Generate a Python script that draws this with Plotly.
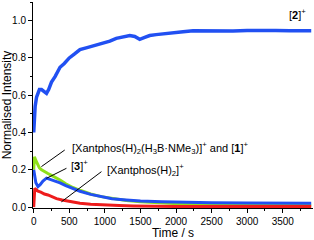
import plotly.graph_objects as go

# [2]+ (upper blue)
t_p2 = [0, 10, 20, 40, 60, 80, 110, 140, 180, 210, 250, 300, 370, 430, 500, 570, 650, 750, 880, 1000,
        1070, 1160, 1250, 1350, 1420, 1490, 1560, 1630, 1720, 1820, 1910, 2000, 2100, 2240, 2400, 2600,
        2800, 3000, 3200, 3400, 3600, 3800, 3900]
v_p2 = [0.40, 0.50, 0.54, 0.59, 0.61, 0.63, 0.63, 0.62, 0.61, 0.63, 0.67, 0.70, 0.75, 0.77, 0.80, 0.82,
        0.845, 0.855, 0.87, 0.88, 0.89, 0.905, 0.91, 0.92, 0.915, 0.90, 0.91, 0.92, 0.925, 0.93, 0.93,
        0.935, 0.94, 0.946, 0.945, 0.946, 0.945, 0.947, 0.945, 0.947, 0.946, 0.948, 0.946]

# [Xantphos(H)2(H3B.NMe3)]+ and [1]+ (green)
t_g = [0, 10, 30, 50, 80, 110, 150, 200, 250, 300, 370, 450, 550, 650, 800, 950, 1100, 1300, 1500,
       1800, 2100, 2500, 3000, 3500, 3900]
v_g = [0.20, 0.27, 0.25, 0.23, 0.21, 0.20, 0.19, 0.18, 0.17, 0.16, 0.145, 0.125, 0.105, 0.09, 0.07,
       0.056, 0.047, 0.035, 0.028, 0.02, 0.016, 0.012, 0.01, 0.01, 0.01]

# [3]+ (lower blue)
t_3 = [0, 10, 30, 60, 90, 130, 180, 220, 260, 300, 370, 450, 550, 650, 800, 950, 1100, 1300, 1500,
       1800, 2100, 2500, 3000, 3500, 3900]
v_3 = [0.20, 0.17, 0.13, 0.11, 0.12, 0.14, 0.155, 0.15, 0.145, 0.14, 0.13, 0.115, 0.10, 0.085, 0.068,
       0.055, 0.045, 0.038, 0.032, 0.028, 0.025, 0.023, 0.022, 0.021, 0.02]

# [Xantphos(H)2]+ (red)
t_r = [0, 5, 15, 30, 60, 100, 150, 200, 260, 320, 400, 500, 650, 800, 1000, 1200, 1400, 1600, 1650,
       2000, 3000, 3900]
v_r = [0.0, 0.08, 0.10, 0.095, 0.085, 0.08, 0.07, 0.065, 0.055, 0.045, 0.038, 0.03, 0.02, 0.015, 0.01,
       0.008, 0.006, 0.004, 0.003, 0.003, 0.003, 0.003]

x_ticks = [0, 500, 1000, 1500, 2000, 2500, 3000, 3500]
y_ticks = [0.0, 0.2, 0.4, 0.6, 0.8, 1.0]

BLUE = "#2150f2"
GREEN = "#8fe01a"
RED = "#ee1c1c"

fig = go.Figure()
fig.add_trace(go.Scatter(x=t_g, y=v_g, mode="lines", line=dict(color=GREEN, width=3), showlegend=False))
fig.add_trace(go.Scatter(x=t_3, y=v_3, mode="lines", line=dict(color=BLUE, width=3), showlegend=False))
fig.add_trace(go.Scatter(x=t_r, y=v_r, mode="lines", line=dict(color=RED, width=3), showlegend=False))
fig.add_trace(go.Scatter(x=t_p2, y=v_p2, mode="lines", line=dict(color=BLUE, width=3.5), showlegend=False))

font = "Liberation Sans, Arial, sans-serif"
ann = [
    dict(x=3558, y=1.038, text="[<b>2</b>]<sup>+</sup>", xanchor="left", yanchor="middle"),
    dict(x=506, y=0.317, text="[Xantphos(H)<sub>2</sub>(H<sub>3</sub>B·NMe<sub>3</sub>)]<sup>+</sup> and [<b>1</b>]<sup>+</sup>",
         xanchor="left", yanchor="middle"),
    dict(x=496, y=0.226, text="[<b>3</b>]<sup>+</sup>", xanchor="left", yanchor="middle"),
    dict(x=1000, y=0.20, text="[Xantphos(H)<sub>2</sub>]<sup>+</sup>", xanchor="left", yanchor="middle"),
]
for a in ann:
    a.update(xref="x", yref="y", showarrow=False, font=dict(family=font, size=11, color="black"))

segs = [((108, 0.217), (436, 0.306)), ((178, 0.154), (460, 0.208)), ((389, 0.028), (952, 0.19))]
shapes = [dict(type="line", xref="x", yref="y", x0=a[0], y0=a[1], x1=b[0], y1=b[1],
               line=dict(color="black", width=1)) for a, b in segs]

axis_common = dict(showline=True, linecolor="black", linewidth=1, ticks="outside", ticklen=4,
                   tickcolor="black", showgrid=False, zeroline=False, mirror=False,
                   tickfont=dict(family=font, size=10, color="black"))
fig.update_layout(
    width=314, height=240, margin=dict(l=33, r=1, t=2, b=32),
    paper_bgcolor="white", plot_bgcolor="white",
    annotations=ann, shapes=shapes,
    xaxis=dict(range=[-10, 3925], tickvals=x_ticks, ticktext=[str(v) for v in x_ticks],
               minor=dict(dtick=250, ticks="outside", ticklen=2, tickcolor="black"),
               title=dict(text="Time / s", font=dict(family=font, size=12, color="black"), standoff=4),
               **axis_common),
    yaxis=dict(range=[-0.005, 1.1], tickvals=y_ticks, ticktext=[f"{v:.1f}" for v in y_ticks],
               minor=dict(dtick=0.1, ticks="outside", ticklen=2, tickcolor="black"),
               title=dict(text="Normalised Intensity", font=dict(family=font, size=12, color="black"), standoff=2),
               **axis_common),
)
fig.write_html("out.html", config={"displayModeBar": False},
               post_script="document.body.style.margin='0';document.body.style.overflow='hidden';")
